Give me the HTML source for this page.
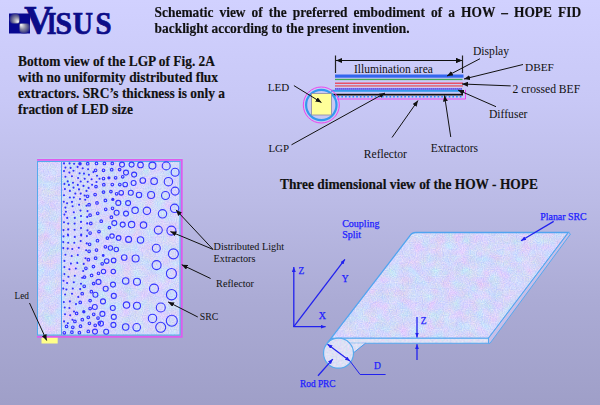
<!DOCTYPE html>
<html><head><meta charset="utf-8">
<style>
html,body{margin:0;padding:0;}
body{width:600px;height:405px;overflow:hidden;position:relative;
background:linear-gradient(to bottom,#d1d1ff 0px,#c8c8f6 100px,#bbbbe6 200px,#ababd5 300px,#9f9fc8 405px);
font-family:"Liberation Serif",serif;}
.t{position:absolute;font-weight:bold;color:#111;-webkit-text-stroke:0.15px #111;font-size:13.4px;line-height:16.2px;white-space:nowrap;}
#title{left:154.6px;top:4px;width:426.5px;white-space:normal;text-align:justify;transform:scaleY(1.05);transform-origin:0 0;line-height:15.7px;}
svg{position:absolute;left:0;top:0;}
</style></head><body>
<svg width="600" height="405" viewBox="0 0 600 405">
<defs>
<filter id="tex" x="0" y="0" width="100%" height="100%" color-interpolation-filters="sRGB">
<feTurbulence type="fractalNoise" baseFrequency="0.09" numOctaves="3" seed="7" result="lo"/>
<feColorMatrix in="lo" type="matrix" values="0.18 0 0 0 0.615  -0.10 0.1 0 0 0.424  0 0 0.1 0 0.45  0 0 0 0 1" result="A"/>
<feTurbulence type="fractalNoise" baseFrequency="0.85" numOctaves="1" seed="3" result="hi"/>
<feColorMatrix in="hi" type="matrix" values="0.25 0 0 0 0  0.2 0 0 0 0.321  0 0 0.12 0 0.42  0 0 0 0 1" result="B"/>
<feComposite in="A" in2="B" operator="arithmetic" k1="0" k2="1" k3="1" k4="0"/>
<feComposite in2="SourceGraphic" operator="in"/>
</filter>
<filter id="tex2" x="0" y="0" width="100%" height="100%" color-interpolation-filters="sRGB">
<feTurbulence type="fractalNoise" baseFrequency="0.5" numOctaves="2" seed="11"/>
<feColorMatrix type="matrix" values="0.2 0 0 0 0.77  0 0.15 0 0 0.805  0 0 0.06 0 0.93  0 0 0 0 1"/>
<feComposite in2="SourceGraphic" operator="in"/>
</filter>
<marker id="ah" markerWidth="6" markerHeight="5" refX="6" refY="2.5" orient="auto" markerUnits="userSpaceOnUse">
<path d="M0,0 L6,2.5 L0,5 z" fill="#111"/></marker>
<marker id="ahb" markerWidth="5" markerHeight="4" refX="5" refY="2" orient="auto" markerUnits="userSpaceOnUse">
<path d="M0,0 L5,2 L0,4 z" fill="#2222ee"/></marker>
<marker id="ahbs" markerWidth="5" markerHeight="4" refX="0" refY="2" orient="auto" markerUnits="userSpaceOnUse">
<path d="M5,0 L0,2 L5,4 z" fill="#2222ee"/></marker>
<radialGradient id="q1" gradientUnits="userSpaceOnUse" cx="19.3" cy="23.3" r="14">
<stop offset="0" stop-color="#ffffff"/><stop offset="0.2" stop-color="#f0f0f0"/><stop offset="0.45" stop-color="#a8a8b4"/><stop offset="0.75" stop-color="#5a5a80"/><stop offset="1" stop-color="#20206e"/></radialGradient>
</defs>

<!-- LOGO -->
<clipPath id="cq1"><rect x="9" y="13.5" width="10.5" height="10"/></clipPath>
<clipPath id="cq2"><rect x="19.5" y="23.5" width="10.5" height="10"/></clipPath>
<radialGradient id="s1" gradientUnits="userSpaceOnUse" cx="15" cy="19" r="6" fx="18.3" fy="22"><stop offset="0" stop-color="#ffffff"/><stop offset="0.18" stop-color="#d4d4de"/><stop offset="0.5" stop-color="#8a8aa4"/><stop offset="0.8" stop-color="#4a4a8a"/><stop offset="1" stop-color="#14148e"/></radialGradient>
<radialGradient id="s2" gradientUnits="userSpaceOnUse" cx="24" cy="27.5" r="6.5" fx="20.8" fy="24.6"><stop offset="0" stop-color="#ffffff"/><stop offset="0.18" stop-color="#d4d4de"/><stop offset="0.5" stop-color="#8a8aa4"/><stop offset="0.8" stop-color="#4a4a8a"/><stop offset="1" stop-color="#14148e"/></radialGradient>
<rect x="9" y="13.5" width="21" height="20" fill="#080890"/>
<circle cx="15" cy="19" r="6" fill="url(#s1)" clip-path="url(#cq1)"/>
<circle cx="24" cy="27.5" r="6.5" fill="url(#s2)" clip-path="url(#cq2)"/>
<g font-family="Liberation Serif" font-weight="bold" fill="#0c0c88" stroke="#0c0c88" stroke-width="0.7">
<text x="24.2" y="33.0" font-size="39.5" textLength="28.5" lengthAdjust="spacingAndGlyphs">V</text>
<text x="46.8" y="33.8" font-size="30.8" textLength="9.7" lengthAdjust="spacingAndGlyphs">I</text>
<text x="55.6" y="33.8" font-size="30.8" textLength="16.5" lengthAdjust="spacingAndGlyphs">S</text>
<text x="72.8" y="33.8" font-size="30.8" textLength="20.25" lengthAdjust="spacingAndGlyphs">U</text>
<text x="95.4" y="33.8" font-size="30.8" textLength="16.1" lengthAdjust="spacingAndGlyphs">S</text></g>

<!-- LEFT TEXT -->
<g font-family="Liberation Serif" font-weight="bold" font-size="13.4" fill="#111" stroke="#111" stroke-width="0.15">
<text transform="translate(18,66) scale(1,1.05)">Bottom view of the LGP of Fig. 2A</text>
<text transform="translate(18,82) scale(1,1.05)">with no uniformity distributed flux</text>
<text transform="translate(18,98) scale(1,1.05)">extractors. SRC’s thickness is only a</text>
<text transform="translate(18,114) scale(1,1.05)">fraction of LED size</text>
<text transform="translate(280,189) scale(1,1.05)">Three dimensional view of the HOW - HOPE</text>
</g>

<!-- TOP DIAGRAM -->
<g>
<line x1="335.5" y1="55.5" x2="335.5" y2="73" stroke="#222" stroke-width="1.2"/>
<line x1="462.5" y1="55.5" x2="462.5" y2="73" stroke="#222" stroke-width="1.2"/>
<line x1="336" y1="60.5" x2="462" y2="60.5" stroke="#111" stroke-width="1" marker-end="url(#ah)" marker-start="url(#ahs)"/>
<path d="M336,60.5 l6,-2.5 l0,5 z M462,60.5 l-6,-2.5 l0,5 z" fill="#111"/>
<rect x="335" y="74.5" width="128.5" height="3.2" fill="#3366ee"/>
<rect x="335" y="78.8" width="127.5" height="1.3" fill="#44aa55"/>
<rect x="335" y="82.6" width="128" height="1.2" fill="#ee3344"/>
<rect x="335" y="85" width="128" height="1.8" fill="#dd7788"/>
<rect x="335" y="88.2" width="127" height="1.6" fill="#7060f0"/>
<line x1="335" y1="88.9" x2="462" y2="88.9" stroke="#6040d8" stroke-width="1" stroke-dasharray="1 1"/>
<rect x="331" y="89.8" width="132" height="2" fill="#3399ee"/>
<rect x="332" y="93.8" width="131" height="1.7" fill="#111"/>
<line x1="334" y1="96.8" x2="463" y2="96.8" stroke="#2288ff" stroke-width="1.6" stroke-dasharray="1.6 2.1"/>
<path d="M337,99 H465.5 V89.8" fill="none" stroke="#ee44ee" stroke-width="1"/>
<circle cx="321.3" cy="105" r="18" fill="none" stroke="#ee44ee" stroke-width="1"/>
<circle cx="321.3" cy="105" r="15.2" fill="none" stroke="#3399ee" stroke-width="2.2"/>
<rect x="311.5" y="93.5" width="20" height="21.5" fill="#ffff99" stroke="#8888aa" stroke-width="0.8"/>
<g font-family="Liberation Serif" font-size="11.6" fill="#111">
<text x="354" y="72.6" font-size="11.5">Illumination area</text>
<text x="473" y="54.7">Display</text>
<text x="525" y="70.7" font-size="11.3">DBEF</text>
<text x="512.5" y="92.5">2 crossed BEF</text>
<text x="489" y="117.6">Diffuser</text>
<text x="267.8" y="90.9" font-size="11.1">LED</text>
<text x="268.4" y="151.6" font-size="10.9">LGP</text>
<text x="363.75" y="157.5">Reflector</text>
<text x="430.75" y="151.75" font-size="11.5">Extractors</text>
</g>
<g stroke="#111" stroke-width="1" marker-end="url(#ah)">
<line x1="480" y1="58.7" x2="447" y2="76"/>
<line x1="523" y1="64.5" x2="464" y2="79"/>
<line x1="510.7" y1="85.9" x2="462" y2="84"/>
<line x1="496" y1="106.7" x2="458" y2="90"/>
<line x1="293.9" y1="85.6" x2="321.5" y2="102.5"/>
<line x1="291.5" y1="144.8" x2="385" y2="93"/>
<line x1="392" y1="137.5" x2="418" y2="100.5"/>
<line x1="450.75" y1="137" x2="444.5" y2="95.5"/>
</g>
</g>

<!-- BOTTOM-LEFT PANEL -->
<g>
<rect x="37.5" y="161.5" width="142.5" height="173.5" fill="#d6dcf6"/>
<rect x="37.5" y="161.5" width="142.5" height="173.5" fill="#fff" filter="url(#tex)"/>
<rect x="41.5" y="336" width="16.2" height="7.5" fill="#ffff88"/>
<line x1="37" y1="158.3" x2="182.5" y2="158.3" stroke="#bcd4ee" stroke-width="0.9" opacity="0.8"/>
<path d="M37,159.9 H181.8 V336.9 H37" fill="none" stroke="#dd5cee" stroke-width="1.8"/>
<rect x="37.5" y="161.5" width="142.5" height="173.5" fill="none" stroke="#55aaee" stroke-width="1"/>
<line x1="61.5" y1="161.5" x2="61.5" y2="335" stroke="#55a0f0" stroke-width="1"/>
<g fill="#3333ff">
<circle cx="64.0" cy="163.4" r="1.05"/>
<circle cx="69.6" cy="163.4" r="1.05"/>
<circle cx="74.1" cy="163.7" r="1.05"/>
<circle cx="65.4" cy="167.6" r="1.05"/>
<circle cx="70.6" cy="167.9" r="1.05"/>
<circle cx="77.6" cy="166.9" r="1.05"/>
<circle cx="82.7" cy="168.2" r="1.05"/>
<circle cx="88.1" cy="169.2" r="1.05"/>
<circle cx="64.0" cy="171.1" r="1.05"/>
<circle cx="69.4" cy="172.6" r="1.05"/>
<circle cx="73.5" cy="170.8" r="1.05"/>
<circle cx="79.6" cy="173.3" r="1.05"/>
<circle cx="84.0" cy="173.6" r="1.05"/>
<circle cx="93.4" cy="172.1" r="1.05"/>
<circle cx="65.4" cy="176.8" r="1.05"/>
<circle cx="71.9" cy="176.3" r="1.05"/>
<circle cx="88.9" cy="174.8" r="1.05"/>
<circle cx="97.0" cy="175.8" r="1.05"/>
<circle cx="78.1" cy="178.0" r="1.05"/>
<circle cx="84.7" cy="178.7" r="1.05"/>
<circle cx="91.6" cy="179.2" r="1.05"/>
<circle cx="99.5" cy="178.7" r="1.05"/>
<circle cx="67.7" cy="181.4" r="1.05"/>
<circle cx="73.0" cy="182.7" r="1.05"/>
<circle cx="80.7" cy="181.5" r="1.05"/>
<circle cx="87.7" cy="181.7" r="1.05"/>
<circle cx="96.5" cy="182.0" r="1.05"/>
<circle cx="64.4" cy="183.9" r="1.05"/>
<circle cx="68.9" cy="184.9" r="1.05"/>
<circle cx="77.8" cy="184.9" r="1.05"/>
<circle cx="83.5" cy="185.9" r="1.05"/>
<circle cx="92.1" cy="184.7" r="1.05"/>
<circle cx="73.5" cy="187.6" r="1.05"/>
<circle cx="88.6" cy="187.9" r="1.05"/>
<circle cx="64.9" cy="189.1" r="1.05"/>
<circle cx="69.9" cy="190.9" r="1.05"/>
<circle cx="79.0" cy="189.4" r="1.05"/>
<circle cx="86.5" cy="190.9" r="1.05"/>
<circle cx="75.3" cy="193.6" r="1.05"/>
<circle cx="80.7" cy="193.6" r="1.05"/>
<circle cx="64.0" cy="195.3" r="1.05"/>
<circle cx="84.7" cy="195.5" r="1.05"/>
<circle cx="69.9" cy="197.5" r="1.05"/>
<circle cx="73.8" cy="197.5" r="1.05"/>
<circle cx="80.0" cy="199.0" r="1.05"/>
<circle cx="85.2" cy="199.7" r="1.05"/>
<circle cx="63.8" cy="201.7" r="1.05"/>
<circle cx="67.1" cy="203.2" r="1.05"/>
<circle cx="72.0" cy="201.9" r="1.05"/>
<circle cx="79.1" cy="204.7" r="1.05"/>
<circle cx="86.5" cy="205.7" r="1.05"/>
<circle cx="65.4" cy="207.6" r="1.05"/>
<circle cx="72.6" cy="206.2" r="1.05"/>
<circle cx="80.5" cy="210.6" r="1.05"/>
<circle cx="87.5" cy="211.1" r="1.05"/>
<circle cx="65.9" cy="211.8" r="1.05"/>
<circle cx="73.8" cy="212.3" r="1.05"/>
<circle cx="64.4" cy="214.6" r="1.05"/>
<circle cx="81.0" cy="216.0" r="1.05"/>
<circle cx="67.2" cy="217.9" r="1.05"/>
<circle cx="74.8" cy="217.9" r="1.05"/>
<circle cx="87.2" cy="216.9" r="1.05"/>
<circle cx="81.0" cy="221.9" r="1.05"/>
<circle cx="64.0" cy="222.2" r="1.05"/>
<circle cx="68.2" cy="223.6" r="1.05"/>
<circle cx="74.6" cy="223.6" r="1.05"/>
<circle cx="87.2" cy="223.4" r="1.05"/>
<circle cx="81.0" cy="228.1" r="1.05"/>
<circle cx="63.5" cy="230.1" r="1.05"/>
<circle cx="68.2" cy="229.4" r="1.05"/>
<circle cx="74.6" cy="229.8" r="1.05"/>
<circle cx="87.5" cy="230.4" r="1.05"/>
<circle cx="81.2" cy="234.5" r="1.05"/>
<circle cx="67.9" cy="234.5" r="1.05"/>
<circle cx="63.5" cy="236.4" r="1.05"/>
<circle cx="68.1" cy="235.5" r="1.05"/>
<circle cx="74.8" cy="236.9" r="1.05"/>
<circle cx="81.2" cy="235.5" r="1.05"/>
<circle cx="86.9" cy="236.1" r="1.05"/>
<circle cx="63.3" cy="242.1" r="1.05"/>
<circle cx="68.2" cy="242.7" r="1.05"/>
<circle cx="74.3" cy="242.7" r="1.05"/>
<circle cx="80.7" cy="241.1" r="1.05"/>
<circle cx="86.7" cy="243.4" r="1.05"/>
<circle cx="63.3" cy="248.1" r="1.05"/>
<circle cx="67.7" cy="248.6" r="1.05"/>
<circle cx="72.3" cy="249.0" r="1.05"/>
<circle cx="78.8" cy="247.8" r="1.05"/>
<circle cx="86.2" cy="250.3" r="1.05"/>
<circle cx="65.4" cy="254.7" r="1.05"/>
<circle cx="71.7" cy="256.0" r="1.05"/>
<circle cx="77.8" cy="255.0" r="1.05"/>
<circle cx="85.5" cy="258.2" r="1.05"/>
<circle cx="64.4" cy="260.9" r="1.05"/>
<circle cx="70.9" cy="263.6" r="1.05"/>
<circle cx="77.3" cy="262.9" r="1.05"/>
<circle cx="83.7" cy="263.9" r="1.05"/>
<circle cx="64.4" cy="267.1" r="1.05"/>
<circle cx="69.4" cy="269.3" r="1.05"/>
<circle cx="75.8" cy="268.5" r="1.05"/>
<circle cx="83.2" cy="271.0" r="1.05"/>
<circle cx="64.4" cy="274.1" r="1.05"/>
<circle cx="68.4" cy="276.7" r="1.05"/>
<circle cx="74.8" cy="275.7" r="1.05"/>
<circle cx="82.2" cy="277.7" r="1.05"/>
<circle cx="63.5" cy="280.7" r="1.05"/>
<circle cx="67.1" cy="283.0" r="1.05"/>
<circle cx="73.8" cy="282.3" r="1.05"/>
<circle cx="81.0" cy="283.8" r="1.05"/>
<circle cx="63.3" cy="288.6" r="1.05"/>
<circle cx="66.4" cy="289.5" r="1.05"/>
<circle cx="72.8" cy="288.5" r="1.05"/>
<circle cx="80.2" cy="289.1" r="1.05"/>
<circle cx="65.1" cy="294.5" r="1.05"/>
<circle cx="72.0" cy="293.7" r="1.05"/>
<circle cx="78.3" cy="296.9" r="1.05"/>
<circle cx="63.8" cy="302.1" r="1.05"/>
<circle cx="69.9" cy="301.4" r="1.05"/>
<circle cx="76.0" cy="304.1" r="1.05"/>
<circle cx="64.7" cy="307.5" r="1.05"/>
<circle cx="69.4" cy="308.0" r="1.05"/>
<circle cx="74.0" cy="311.5" r="1.05"/>
<circle cx="65.0" cy="314.3" r="1.05"/>
<circle cx="70.2" cy="315.2" r="1.05"/>
<circle cx="72.5" cy="319.7" r="1.05"/>
<circle cx="64.1" cy="321.4" r="1.05"/>
<circle cx="67.8" cy="323.3" r="1.05"/>
</g>
<g fill="#3333ff">
<circle cx="80.0" cy="163.7" r="1.8"/>
<circle cx="108.9" cy="177.8" r="1.6"/>
<circle cx="112.8" cy="199.4" r="1.6"/>
<circle cx="103.2" cy="255.5" r="1.4"/>
<circle cx="83.8" cy="311.7" r="1.7"/>
</g>
<g fill="none" stroke="#3535ff" stroke-width="1.1">
<circle cx="87.7" cy="163.7" r="1.3" stroke-width="1.15"/>
<circle cx="96.5" cy="163.4" r="1.3" stroke-width="1.15"/>
<circle cx="95.6" cy="170.3" r="1.3" stroke-width="1.15"/>
<circle cx="96.0" cy="186.6" r="1.3" stroke-width="1.15"/>
<circle cx="95.1" cy="194.5" r="1.3" stroke-width="1.15"/>
<circle cx="87.5" cy="196.3" r="1.3" stroke-width="1.15"/>
<circle cx="89.1" cy="204.7" r="1.3" stroke-width="1.15"/>
<circle cx="97.0" cy="202.9" r="1.3" stroke-width="1.15"/>
<circle cx="97.7" cy="213.3" r="1.3" stroke-width="1.15"/>
<circle cx="90.1" cy="215.2" r="1.3" stroke-width="1.15"/>
<circle cx="90.8" cy="223.4" r="1.3" stroke-width="1.15"/>
<circle cx="99.0" cy="231.5" r="1.3" stroke-width="1.15"/>
<circle cx="90.1" cy="233.0" r="1.3" stroke-width="1.15"/>
<circle cx="97.5" cy="240.7" r="1.3" stroke-width="1.15"/>
<circle cx="89.6" cy="244.3" r="1.3" stroke-width="1.15"/>
<circle cx="89.1" cy="251.3" r="1.3" stroke-width="1.15"/>
<circle cx="96.5" cy="250.0" r="1.3" stroke-width="1.15"/>
<circle cx="88.4" cy="259.7" r="1.3" stroke-width="1.15"/>
<circle cx="95.6" cy="258.2" r="1.3" stroke-width="1.15"/>
<circle cx="85.9" cy="268.3" r="1.3" stroke-width="1.15"/>
<circle cx="93.4" cy="266.6" r="1.3" stroke-width="1.15"/>
<circle cx="84.5" cy="277.1" r="1.3" stroke-width="1.15"/>
<circle cx="91.6" cy="275.4" r="1.3" stroke-width="1.15"/>
<circle cx="98.5" cy="273.3" r="1.3" stroke-width="1.15"/>
<circle cx="84.2" cy="286.3" r="1.3" stroke-width="1.15"/>
<circle cx="93.6" cy="283.6" r="1.3" stroke-width="1.15"/>
<circle cx="82.2" cy="293.7" r="1.3" stroke-width="1.15"/>
<circle cx="91.4" cy="291.7" r="1.3" stroke-width="1.15"/>
<circle cx="80.2" cy="302.4" r="1.3" stroke-width="1.15"/>
<circle cx="90.1" cy="300.6" r="1.3" stroke-width="1.15"/>
<circle cx="90.1" cy="308.5" r="1.3" stroke-width="1.15"/>
<circle cx="76.6" cy="313.4" r="1.3" stroke-width="1.15"/>
<circle cx="93.7" cy="314.3" r="1.3" stroke-width="1.15"/>
<circle cx="88.3" cy="317.3" r="1.3" stroke-width="1.15"/>
<circle cx="98.0" cy="318.0" r="1.3" stroke-width="1.15"/>
<circle cx="74.9" cy="321.4" r="1.3" stroke-width="1.15"/>
<circle cx="82.3" cy="319.7" r="1.3" stroke-width="1.15"/>
<circle cx="89.4" cy="323.3" r="1.3" stroke-width="1.15"/>
<circle cx="99.3" cy="323.1" r="1.3" stroke-width="1.15"/>
<circle cx="66.5" cy="326.4" r="1.3" stroke-width="1.15"/>
<circle cx="72.8" cy="327.3" r="1.3" stroke-width="1.15"/>
<circle cx="80.5" cy="326.2" r="1.3" stroke-width="1.15"/>
<circle cx="95.2" cy="325.3" r="1.3" stroke-width="1.15"/>
<circle cx="64.3" cy="332.8" r="1.3" stroke-width="1.15"/>
<circle cx="71.9" cy="332.2" r="1.3" stroke-width="1.15"/>
<circle cx="79.4" cy="332.7" r="1.3" stroke-width="1.15"/>
<circle cx="88.3" cy="331.4" r="1.3" stroke-width="1.15"/>
<circle cx="104.4" cy="163.4" r="1.3" stroke-width="1.15"/>
<circle cx="112.3" cy="163.4" r="1.3" stroke-width="1.15"/>
<circle cx="103.5" cy="170.3" r="1.3" stroke-width="1.15"/>
<circle cx="111.7" cy="169.7" r="1.3" stroke-width="1.15"/>
<circle cx="119.6" cy="169.6" r="1.3" stroke-width="1.15"/>
<circle cx="103.5" cy="178.5" r="1.3" stroke-width="1.15"/>
<circle cx="115.6" cy="177.8" r="1.3" stroke-width="1.15"/>
<circle cx="122.7" cy="176.8" r="1.3" stroke-width="1.15"/>
<circle cx="103.8" cy="184.7" r="1.3" stroke-width="1.15"/>
<circle cx="112.3" cy="184.5" r="1.3" stroke-width="1.15"/>
<circle cx="119.8" cy="184.5" r="1.3" stroke-width="1.15"/>
<circle cx="103.5" cy="192.1" r="1.3" stroke-width="1.15"/>
<circle cx="110.9" cy="191.6" r="1.3" stroke-width="1.15"/>
<circle cx="116.6" cy="193.8" r="1.3" stroke-width="1.15"/>
<circle cx="105.4" cy="200.4" r="1.3" stroke-width="1.15"/>
<circle cx="105.7" cy="209.3" r="1.3" stroke-width="1.15"/>
<circle cx="112.5" cy="208.3" r="1.3" stroke-width="1.15"/>
<circle cx="111.4" cy="217.2" r="1.3" stroke-width="1.15"/>
<circle cx="101.2" cy="221.2" r="1.3" stroke-width="1.15"/>
<circle cx="109.4" cy="227.6" r="1.3" stroke-width="1.15"/>
<circle cx="107.4" cy="238.1" r="1.3" stroke-width="1.15"/>
<circle cx="105.4" cy="246.8" r="1.3" stroke-width="1.15"/>
<circle cx="102.2" cy="263.8" r="1.3" stroke-width="1.15"/>
<circle cx="122.0" cy="164.6" r="2.5"/>
<circle cx="131.6" cy="164.6" r="2.5"/>
<circle cx="140.5" cy="164.9" r="2.8"/>
<circle cx="126.0" cy="172.6" r="2.5"/>
<circle cx="134.1" cy="174.6" r="2.5"/>
<circle cx="125.2" cy="184.5" r="2.3"/>
<circle cx="133.6" cy="183.0" r="2.5"/>
<circle cx="121.2" cy="192.8" r="2.3"/>
<circle cx="130.8" cy="192.8" r="2.5"/>
<circle cx="139.0" cy="195.0" r="2.7"/>
<circle cx="152.4" cy="165.6" r="3.5"/>
<circle cx="166.2" cy="165.9" r="4.0"/>
<circle cx="175.1" cy="172.3" r="4.0"/>
<circle cx="142.8" cy="180.5" r="2.8"/>
<circle cx="154.1" cy="181.2" r="3.3"/>
<circle cx="168.4" cy="181.7" r="4.2"/>
<circle cx="175.1" cy="191.1" r="4.0"/>
<circle cx="151.1" cy="195.0" r="3.5"/>
<circle cx="165.5" cy="195.5" r="4.0"/>
<circle cx="118.3" cy="202.9" r="2.5"/>
<circle cx="128.1" cy="203.1" r="2.5"/>
<circle cx="116.6" cy="212.8" r="2.5"/>
<circle cx="126.0" cy="213.6" r="2.5"/>
<circle cx="135.1" cy="210.3" r="3.2"/>
<circle cx="114.3" cy="223.1" r="2.5"/>
<circle cx="122.7" cy="224.6" r="2.5"/>
<circle cx="131.6" cy="224.6" r="3.2"/>
<circle cx="143.5" cy="225.1" r="3.2"/>
<circle cx="146.9" cy="210.8" r="3.7"/>
<circle cx="162.5" cy="213.8" r="4.2"/>
<circle cx="174.6" cy="208.3" r="4.2"/>
<circle cx="158.3" cy="230.1" r="4.0"/>
<circle cx="171.4" cy="230.6" r="4.5"/>
<circle cx="112.0" cy="236.1" r="2.2"/>
<circle cx="118.6" cy="237.9" r="2.3"/>
<circle cx="128.6" cy="239.4" r="3.0"/>
<circle cx="140.5" cy="239.9" r="3.2"/>
<circle cx="110.4" cy="248.0" r="2.2"/>
<circle cx="116.3" cy="249.5" r="2.2"/>
<circle cx="124.2" cy="257.5" r="2.8"/>
<circle cx="135.6" cy="258.5" r="3.5"/>
<circle cx="106.7" cy="261.1" r="2.3"/>
<circle cx="113.6" cy="260.4" r="2.3"/>
<circle cx="156.3" cy="248.3" r="4.0"/>
<circle cx="173.4" cy="253.9" r="5.0"/>
<circle cx="156.6" cy="265.1" r="4.5"/>
<circle cx="103.5" cy="271.5" r="2.2"/>
<circle cx="113.3" cy="271.5" r="2.2"/>
<circle cx="125.7" cy="280.9" r="3.2"/>
<circle cx="137.0" cy="281.7" r="3.5"/>
<circle cx="113.0" cy="284.6" r="2.5"/>
<circle cx="105.7" cy="288.8" r="2.5"/>
<circle cx="113.8" cy="295.9" r="2.5"/>
<circle cx="103.0" cy="301.4" r="2.5"/>
<circle cx="126.5" cy="305.1" r="3.2"/>
<circle cx="137.0" cy="305.8" r="3.5"/>
<circle cx="112.8" cy="308.0" r="2.5"/>
<circle cx="98.5" cy="281.9" r="2.5"/>
<circle cx="95.4" cy="294.7" r="2.5"/>
<circle cx="94.8" cy="307.0" r="2.5"/>
<circle cx="95.0" cy="331.6" r="2.5"/>
<circle cx="171.4" cy="273.5" r="5.0"/>
<circle cx="154.0" cy="288.6" r="4.5"/>
<circle cx="171.6" cy="294.7" r="5.2"/>
<circle cx="160.8" cy="307.5" r="4.5"/>
<circle cx="102.4" cy="313.9" r="2.5"/>
<circle cx="113.8" cy="316.9" r="2.5"/>
<circle cx="101.0" cy="323.6" r="2.5"/>
<circle cx="113.4" cy="324.9" r="2.5"/>
<circle cx="125.7" cy="327.0" r="3.2"/>
<circle cx="136.7" cy="327.3" r="3.8"/>
<circle cx="106.2" cy="331.8" r="2.5"/>
<circle cx="152.5" cy="318.4" r="4.2"/>
<circle cx="171.8" cy="320.7" r="5.5"/>
<circle cx="160.7" cy="327.3" r="5.0"/>
</g>
<g font-family="Liberation Serif" font-size="9.9" fill="#111">
<text x="213.6" y="249.7" font-size="10.2">Distributed Light</text>
<text x="213.6" y="262" font-size="10.2">Extractors</text>
<text x="216.1" y="287" font-size="10.2">Reflector</text>
<text x="199.8" y="319.8" font-size="9.8">SRC</text>
<text x="14.5" y="298.8" font-size="9.3">Led</text>
</g>
<g stroke="#111" stroke-width="1" marker-end="url(#ah)">
<line x1="213" y1="249.4" x2="176" y2="209.9"/>
<line x1="213" y1="249.4" x2="170.4" y2="231.6"/>
<line x1="210.6" y1="278.5" x2="181.7" y2="264.7"/>
<line x1="197.8" y1="317" x2="168.1" y2="301.9"/>
<line x1="29.5" y1="303" x2="46.7" y2="340.5"/>
</g>
</g>

<!-- 3D VIEW -->
<g>
<path d="M416,232.5 H568.5 L488.5,338.3 H331 L327,343.5 L331,338.3 L409.8,236 Q411.5,232.5 416,232.5 z" fill="#d6dcf6"/>
<path d="M416,232.5 H568.5 L488.5,338.3 H331 L327,343.5 L331,338.3 L409.8,236 Q411.5,232.5 416,232.5 z" fill="#fff" filter="url(#tex)"/>
<path d="M416,232.5 H568.5 L488.5,338.3 H331 L327,343.5 L331,338.3 L409.8,236 Q411.5,232.5 416,232.5 z" fill="none" stroke="#50a4f0" stroke-width="1.3"/>
<path d="M568.5,232.5 L570.5,234 L490,343.3 H488.5 V338.3 z" fill="#c8c0e8" stroke="#55a8f0" stroke-width="1"/>
<path d="M340,338.3 H488.5 V343.3 H350 z" fill="#fff" filter="url(#tex2)"/>
<path d="M340,338.3 H488.5 V343.3 H350 z" fill="none" stroke="#55a8f0" stroke-width="1.1"/>
<path d="M352.4,353.7 L365.4,343.3 H345 z" fill="#fff" filter="url(#tex2)"/>
<path d="M352.4,353.7 L365.4,343.3" fill="none" stroke="#4499ee" stroke-width="1"/>
<circle cx="338.5" cy="353.2" r="15" fill="#fff" filter="url(#tex2)"/>
<circle cx="338.5" cy="353.2" r="15" fill="none" stroke="#55aaee" stroke-width="1.2"/>
<g stroke="#2222ee" stroke-width="1.3" fill="none">
<line x1="293.8" y1="327" x2="293.8" y2="267" marker-end="url(#ahb)"/>
<line x1="293.3" y1="326.7" x2="325.6" y2="326.7" marker-end="url(#ahb)"/>
<line x1="293.8" y1="326.7" x2="344.9" y2="259.3" marker-end="url(#ahb)"/>
<line x1="327.5" y1="344.2" x2="350" y2="361.1" marker-end="url(#ahb)" marker-start="url(#ahbs)"/>
<path d="M350,361.1 L360.1,374.5 H385.6" stroke-width="1"/>
<line x1="318" y1="375.7" x2="332.8" y2="359.1" marker-end="url(#ahb)"/>
<line x1="417" y1="317" x2="417" y2="337.5" marker-end="url(#ahb)"/>
<line x1="417" y1="360" x2="417" y2="344.2" marker-end="url(#ahb)"/>
<line x1="553.7" y1="221.4" x2="521" y2="240.7" marker-end="url(#ahb)"/>
</g>
<g font-family="Liberation Serif" font-size="10" fill="#2020ff" stroke="#2020ff" stroke-width="0.25">
<text x="342.2" y="226.7">Coupling</text>
<text x="342.2" y="237.5">Split</text>
<text x="540.3" y="220.3" font-size="9.9">Planar SRC</text>
<text x="298.6" y="274" font-size="9.5">Z</text>
<text x="341.8" y="282" font-size="9.5">Y</text>
<text x="318.7" y="319" font-size="10">X</text>
<text x="420.7" y="323.7" font-size="9.5">Z</text>
<text x="374" y="368.9" font-size="9.5">D</text>
<text x="300" y="387" font-size="9.35">Rod PRC</text>
</g>
</g>
</svg>
<div class="t" id="title">Schematic view of the preferred embodiment of a HOW – HOPE FID backlight according to the present invention.</div>
</body></html>
